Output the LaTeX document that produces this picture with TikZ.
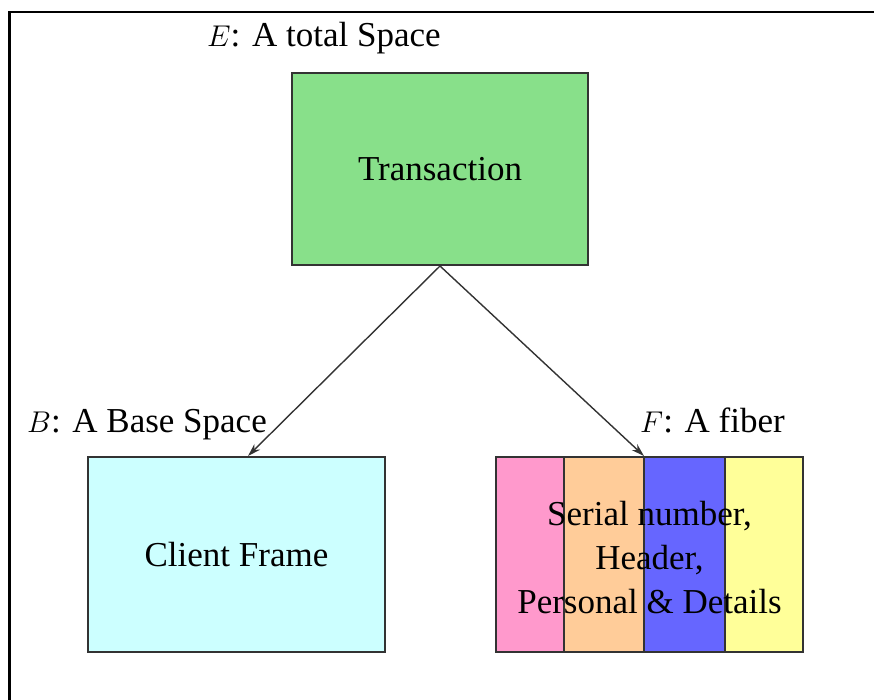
\RequirePackage{fix-cm}
\documentclass[tikz,border=0pt]{standalone}
\usepackage{fontspec}
\setmainfont{Liberation Serif}
\usetikzlibrary{arrows.meta,calc}
\definecolor{transgreen}{HTML}{88E08A}
\definecolor{clientcyan}{HTML}{CCFFFF}
\definecolor{stripepink}{HTML}{FF99CC}
\definecolor{stripeorange}{HTML}{FFCC99}
\definecolor{stripeblue}{HTML}{6666FF}
\definecolor{stripeyellow}{HTML}{FFFF99}
\definecolor{edgegray}{HTML}{333333}
\newcommand{\spacesym}[1]{{\fontsize{30}{32}\selectfont$#1$}}
\begin{document}
\begin{tikzpicture}[x=1pt,y=-1pt,
  every node/.style={font=\fontsize{35}{44}\selectfont},
  boxnode/.style={draw=edgegray,line width=2pt,rectangle,inner sep=0pt,align=center},
  labelnode/.style={anchor=base west,inner sep=0pt},
  connector/.style={draw=black!80,line width=1.4pt,-{Stealth[length=13pt,width=8pt]}}]
\useasboundingbox (0,0) rectangle (874,699);
% outer frame (cropped on the right and bottom)
\draw[line width=2.5pt,black] (9.3,710) -- (9.3,12) -- (890,12);
% boxes
\node[boxnode,fill=transgreen,minimum width=296pt,minimum height=192pt] (trans) at (440,169) {Transaction};
\node[boxnode,fill=clientcyan,minimum width=297pt,minimum height=195pt] (client) at (236.5,554.5) {Client Frame};
\node[boxnode,minimum width=307pt,minimum height=195pt,
  path picture={
    \coordinate (sw) at (path picture bounding box.south west);
    \coordinate (nw) at (path picture bounding box.north west);
    \coordinate (se) at (path picture bounding box.south east);
    \coordinate (ne) at (path picture bounding box.north east);
    \coordinate (a1) at ($(sw)!0.2215!(se)$);
    \coordinate (a2) at ($(sw)!0.4821!(se)$);
    \coordinate (a3) at ($(sw)!0.7459!(se)$);
    \coordinate (b1) at ($(nw)!0.2215!(ne)$);
    \coordinate (b2) at ($(nw)!0.4821!(ne)$);
    \coordinate (b3) at ($(nw)!0.7459!(ne)$);
    \fill[stripepink] (sw) rectangle (b1);
    \fill[stripeorange] (a1) rectangle (b2);
    \fill[stripeblue] (a2) rectangle (b3);
    \fill[stripeyellow] (a3) rectangle (ne);
    \draw[edgegray,line width=1.6pt] (a1) -- (b1) (a2) -- (b2) (a3) -- (b3);
  }] (fiber) at (649.5,554.5) {\raisebox{-6pt}[\height][\depth]{\begin{tabular}{@{}c@{}}Serial number,\\Header,\\Personal \& Details\end{tabular}}};
% labels
\node[labelnode] (elabel) at (207,46) {\spacesym{E}: A total Space};
\node[labelnode] (blabel) at (27,432) {\spacesym{B}: A Base Space};
\node[labelnode] (flabel) at (640,432) {\spacesym{F}: A fiber};
% connectors
\draw[connector] (trans.south) -- ([xshift=11.5pt]client.north);
\draw[connector] (trans.south) -- ([xshift=-5.5pt]fiber.north);
\end{tikzpicture}
\end{document}
